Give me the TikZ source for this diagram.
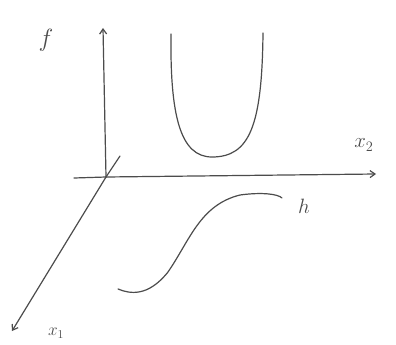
\documentclass[tikz,border=0pt]{standalone}
\usetikzlibrary{arrows.meta}
\begin{document}
\begin{tikzpicture}[x=1pt,y=-1pt,
  ink/.style={draw=black!70,line width=1.2pt,line cap=round,line join=round},
  axis/.style={ink,-{Straight Barb[length=5pt,width=7pt]}},
  lbl/.style={text=black!70,inner sep=0pt}]
\useasboundingbox (0,0) rectangle (396,345);
\fill[white] (0,0) rectangle (396,345);
\coordinate (O) at (106,177);
\coordinate (ftop) at (103,28);
\coordinate (x2left) at (74,178);
\coordinate (x2end) at (376,174);
\coordinate (x1start) at (120,156);
\coordinate (x1end) at (12,331);
\draw[axis] (O) -- (ftop);
\draw[ink] (x2left) -- (O);
\draw[axis] (O) -- (x2end);
\draw[ink] (x1start) -- (O);
\draw[axis] (O) -- (x1end);
\node[lbl,font=\fontsize{28}{30}\selectfont] (f) at (46,40) {$f$};
\node[lbl,font=\fontsize{22}{24}\selectfont] (x2) at (364,145) {$x_2$};
\node[lbl,font=\fontsize{18}{20}\selectfont] (x1) at (56,333) {$x_1$};
\node[lbl,font=\fontsize{22}{24}\selectfont] (h) at (304,206) {$h$};
% U curve
\draw[ink] (171,34) .. controls (170,115) and (180,157) .. (212,157)
  .. controls (250,157) and (262,125) .. (263,33);
% S curve
\draw[ink] (118,289) .. controls (130,294) and (148,297) .. (168,272)
  .. controls (190,240) and (200,205) .. (240,195)
  .. controls (262,192) and (278,194) .. (282,198);
\end{tikzpicture}
\end{document}
